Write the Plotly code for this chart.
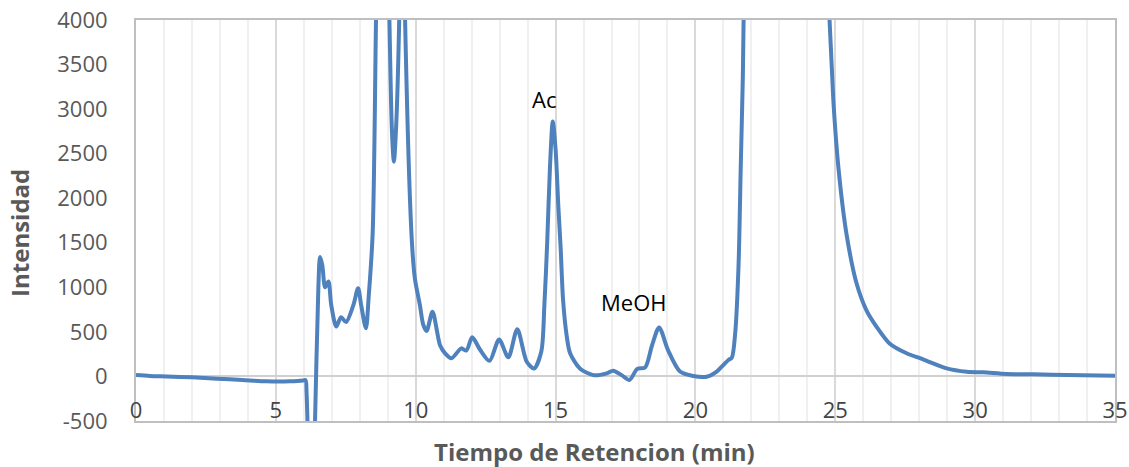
import plotly.graph_objects as go

# Retention time (min) and detector intensity of the chromatogram
tiempo = [
    0.0, 0.5, 1.1, 2.0, 2.9, 3.8, 4.66, 5.5, 5.98, 6.06, 6.10, 6.27, 6.40, 6.52,
    6.58, 6.66, 6.76, 6.88, 6.98, 7.16, 7.33, 7.51, 7.77, 7.94, 8.05, 8.22, 8.32,
    8.46, 8.58, 8.80, 9.06, 9.15, 9.22, 9.30, 9.41, 9.52, 9.62, 9.86, 9.97, 10.15,
    10.27, 10.39, 10.60, 10.87, 11.05, 11.28, 11.63, 11.81, 12.02, 12.29, 12.64,
    12.98, 13.31, 13.63, 13.97, 14.23, 14.49, 14.60, 14.70, 14.80, 14.90, 15.00,
    15.10, 15.18, 15.27, 15.40, 15.52, 15.87, 16.35, 16.83, 17.06, 17.36, 17.64,
    17.92, 18.20, 18.45, 18.70, 19.02, 19.45, 19.92, 20.40, 20.76, 20.94, 21.18,
    21.30, 21.42, 21.54, 21.62, 21.69, 21.80, 23.20, 24.70, 24.93, 25.11, 25.40,
    25.76, 26.11, 26.47, 26.94, 27.55, 28.03, 28.27, 28.98, 29.70, 30.29, 31.13,
    32.08, 33.27, 35.0,
]
intensidad = [
    15, 5, 0, -10, -25, -40, -55, -55, -45, -40, -200, -2000, -500, 1000,
    1340, 1250, 1000, 1065, 800, 560, 665, 610, 800, 990, 800, 540, 900,
    1600, 4000, 9000, 4000, 2750, 2410, 2800, 4000, 6500, 4000, 1530, 1100, 800,
    580, 510, 725, 350, 260, 205, 315, 290, 440, 305, 175,
    415, 215, 530, 165, 90, 280, 800, 1500, 2350, 2860, 2550,
    1900, 1450, 850, 450, 260, 90, 15, 35, 65, 15, -40,
    85, 100, 350, 550, 295, 55, 5, -3, 55, 110, 185,
    210, 480, 1230, 2350, 3290, 5000, 12000, 4600, 3100, 2350, 1600,
    1045, 745, 560, 370, 260, 205, 176, 91, 53, 46, 27,
    24, 16, 8,
]

# Peak labels
pico_nombres = ["Ac", "MeOH"]
pico_x = [14.59, 17.77]
pico_y = [3110, 835]

x_ticks = [0, 5, 10, 15, 20, 25, 30, 35]
y_ticks = [-500, 0, 500, 1000, 1500, 2000, 2500, 3000, 3500, 4000]

fig = go.Figure()
fig.add_trace(go.Scatter(
    x=tiempo, y=intensidad, mode="lines",
    line=dict(color="#4f81bd", width=4, shape="spline", smoothing=0.8),
    showlegend=False, hoverinfo="skip",
))

for nombre, px_, py_ in zip(pico_nombres, pico_x, pico_y):
    fig.add_annotation(
        x=px_, y=py_, xref="x", yref="y", text=nombre, showarrow=False,
        font=dict(family="Open Sans", size=22, color="#000000"),
        xanchor="center", yanchor="middle",
    )

fig.add_annotation(
    x=0.468, y=-0.077, xref="paper", yref="paper",
    text="<b>Tiempo de Retencion (min)</b>", showarrow=False,
    font=dict(family="Open Sans", size=24, color="#595959"),
    xanchor="center", yanchor="middle",
)
fig.add_annotation(
    x=-0.1185, y=0.469, xref="paper", yref="paper",
    text="<b>Intensidad</b>", showarrow=False, textangle=-90,
    font=dict(family="Open Sans", size=24, color="#595959"),
    xanchor="center", yanchor="middle",
)

fig.update_layout(
    width=1129, height=467,
    margin=dict(l=136, r=14, t=20, b=46, autoexpand=False),
    paper_bgcolor="white", plot_bgcolor="white",
    font=dict(family="Open Sans", size=22, color="#595959"),
    xaxis=dict(
        range=[0, 35], tickvals=x_ticks, ticktext=[str(v) for v in x_ticks],
        showgrid=True, gridcolor="#d9d9d9", gridwidth=1.5,
        minor=dict(dtick=1, showgrid=True, gridcolor="#f0f0f0", gridwidth=1.5),
        ticks="", ticklabelposition="inside", ticklabeloverflow="allow",
        showline=True, linecolor="#bfbfbf", linewidth=2, mirror=True,
        zeroline=False, automargin=False,
    ),
    yaxis=dict(
        range=[-500, 4000], tickvals=y_ticks, ticktext=[str(v) for v in y_ticks],
        showgrid=False, ticks="", ticklabelstandoff=22, ticklabeloverflow="allow",
        showline=True, linecolor="#bfbfbf", linewidth=2, mirror=True,
        zeroline=True, zerolinecolor="#d0d0d0", zerolinewidth=1.5,
        automargin=False,
    ),
)

fig.write_html("out.html")
